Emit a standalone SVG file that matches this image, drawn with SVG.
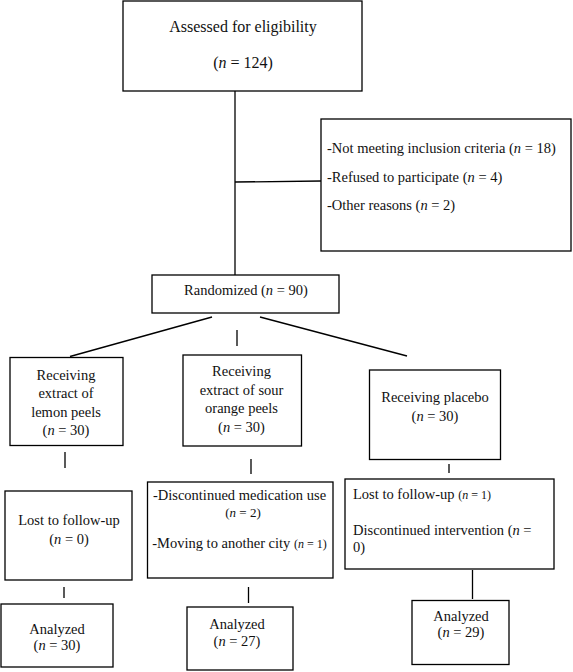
<svg xmlns="http://www.w3.org/2000/svg" width="573" height="672" viewBox="0 0 573 672">
<style>
.box{fill:#fff;stroke:#000;stroke-width:1.3}
#connectors line{stroke:#000;stroke-width:1.3;fill:none}
text{font-family:"Liberation Serif","Times New Roman",serif;font-size:14.5px;fill:#111}
.c{text-anchor:middle}
.i{font-style:italic}
.s{font-size:12px}
.m{font-size:13px}
.big{font-size:16px}
</style>
<rect width="573" height="672" fill="#fff"/>
<g id="connectors">
<line x1="235" y1="91" x2="235" y2="275"/>
<line x1="235" y1="182" x2="321" y2="181"/>
<line x1="212" y1="317" x2="70" y2="356.5"/>
<line x1="237" y1="330" x2="237" y2="346"/>
<line x1="260" y1="317" x2="407" y2="356"/>
<line x1="65" y1="452" x2="65" y2="468"/>
<line x1="251" y1="459" x2="251" y2="474"/>
<line x1="449" y1="464" x2="449" y2="473"/>
<line x1="64" y1="587" x2="64" y2="598"/>
<line x1="248.5" y1="587" x2="248.5" y2="603"/>
<line x1="472.5" y1="570" x2="472.5" y2="599"/>
</g>
<g id="assessed">
<rect class="box" x="123" y="1" width="239" height="90"/>
<text class="c big" x="243" y="32">Assessed for eligibility</text>
<text class="c big" x="243" y="68">(<tspan class="i">n</tspan> = 124)</text>
</g>
<g id="excluded">
<rect class="box" x="321" y="119" width="250" height="132"/>
<text x="327" y="153">-Not meeting inclusion criteria (<tspan class="i">n</tspan> = 18)</text>
<text x="327" y="182">-Refused to participate (<tspan class="i">n</tspan> = 4)</text>
<text x="327" y="210">-Other reasons (<tspan class="i">n</tspan> = 2)</text>
</g>
<g id="randomized">
<rect class="box" x="152" y="275" width="187" height="38"/>
<text class="c" x="246" y="295">Randomized (<tspan class="i">n</tspan> = 90)</text>
</g>
<g id="lemon">
<rect class="box" x="10" y="357.5" width="113" height="88"/>
<text class="c" x="66" y="380">Receiving</text>
<text class="c" x="66" y="398">extract of</text>
<text class="c" x="66" y="416.5">lemon peels</text>
<text class="c" x="66" y="435">(<tspan class="i">n</tspan> = 30)</text>
</g>
<g id="sour">
<rect class="box" x="183" y="355" width="118.5" height="91"/>
<text class="c" x="241.5" y="376">Receiving</text>
<text class="c" x="241.5" y="394.5">extract of sour</text>
<text class="c" x="241.5" y="413">orange peels</text>
<text class="c" x="241.5" y="432">(<tspan class="i">n</tspan> = 30)</text>
</g>
<g id="placebo">
<rect class="box" x="369.5" y="370" width="131" height="89.5"/>
<text class="c" x="435" y="402">Receiving placebo</text>
<text class="c" x="435" y="421">(<tspan class="i">n</tspan> = 30)</text>
</g>
<g id="lost-lemon">
<rect class="box" x="5" y="491" width="127" height="89"/>
<text class="c" x="69" y="524.5">Lost to follow-up</text>
<text class="c" x="69" y="544">(<tspan class="i">n</tspan> = 0)</text>
</g>
<g id="lost-sour">
<rect class="box" x="147.5" y="482" width="185.5" height="96"/>
<text class="c" x="239.5" y="500">-Discontinued medication use</text>
<text class="c m" x="243" y="516.5">(<tspan class="i">n</tspan> = 2)</text>
<text class="c" x="239.5" y="547.5">-Moving to another city <tspan class="s">(<tspan class="i">n</tspan> = 1)</tspan></text>
</g>
<g id="lost-placebo">
<rect class="box" x="345" y="479" width="209" height="90"/>
<text x="353" y="499">Lost to follow-up <tspan class="s">(<tspan class="i">n</tspan> = 1)</tspan></text>
<text x="353" y="535">Discontinued intervention (<tspan class="i">n</tspan> =</text>
<text x="353" y="552">0)</text>
</g>
<g id="analyzed-lemon">
<rect class="box" x="1" y="604" width="112" height="63"/>
<text class="c" x="57" y="634">Analyzed</text>
<text class="c" x="57" y="650">(<tspan class="i">n</tspan> = 30)</text>
</g>
<g id="analyzed-sour">
<rect class="box" x="187" y="607" width="106" height="63"/>
<text class="c" x="237" y="629">Analyzed</text>
<text class="c" x="237" y="646">(<tspan class="i">n</tspan> = 27)</text>
</g>
<g id="analyzed-placebo">
<rect class="box" x="412" y="600.5" width="97" height="64"/>
<text class="c" x="461" y="621">Analyzed</text>
<text class="c" x="461" y="637">(<tspan class="i">n</tspan> = 29)</text>
</g>
</svg>
